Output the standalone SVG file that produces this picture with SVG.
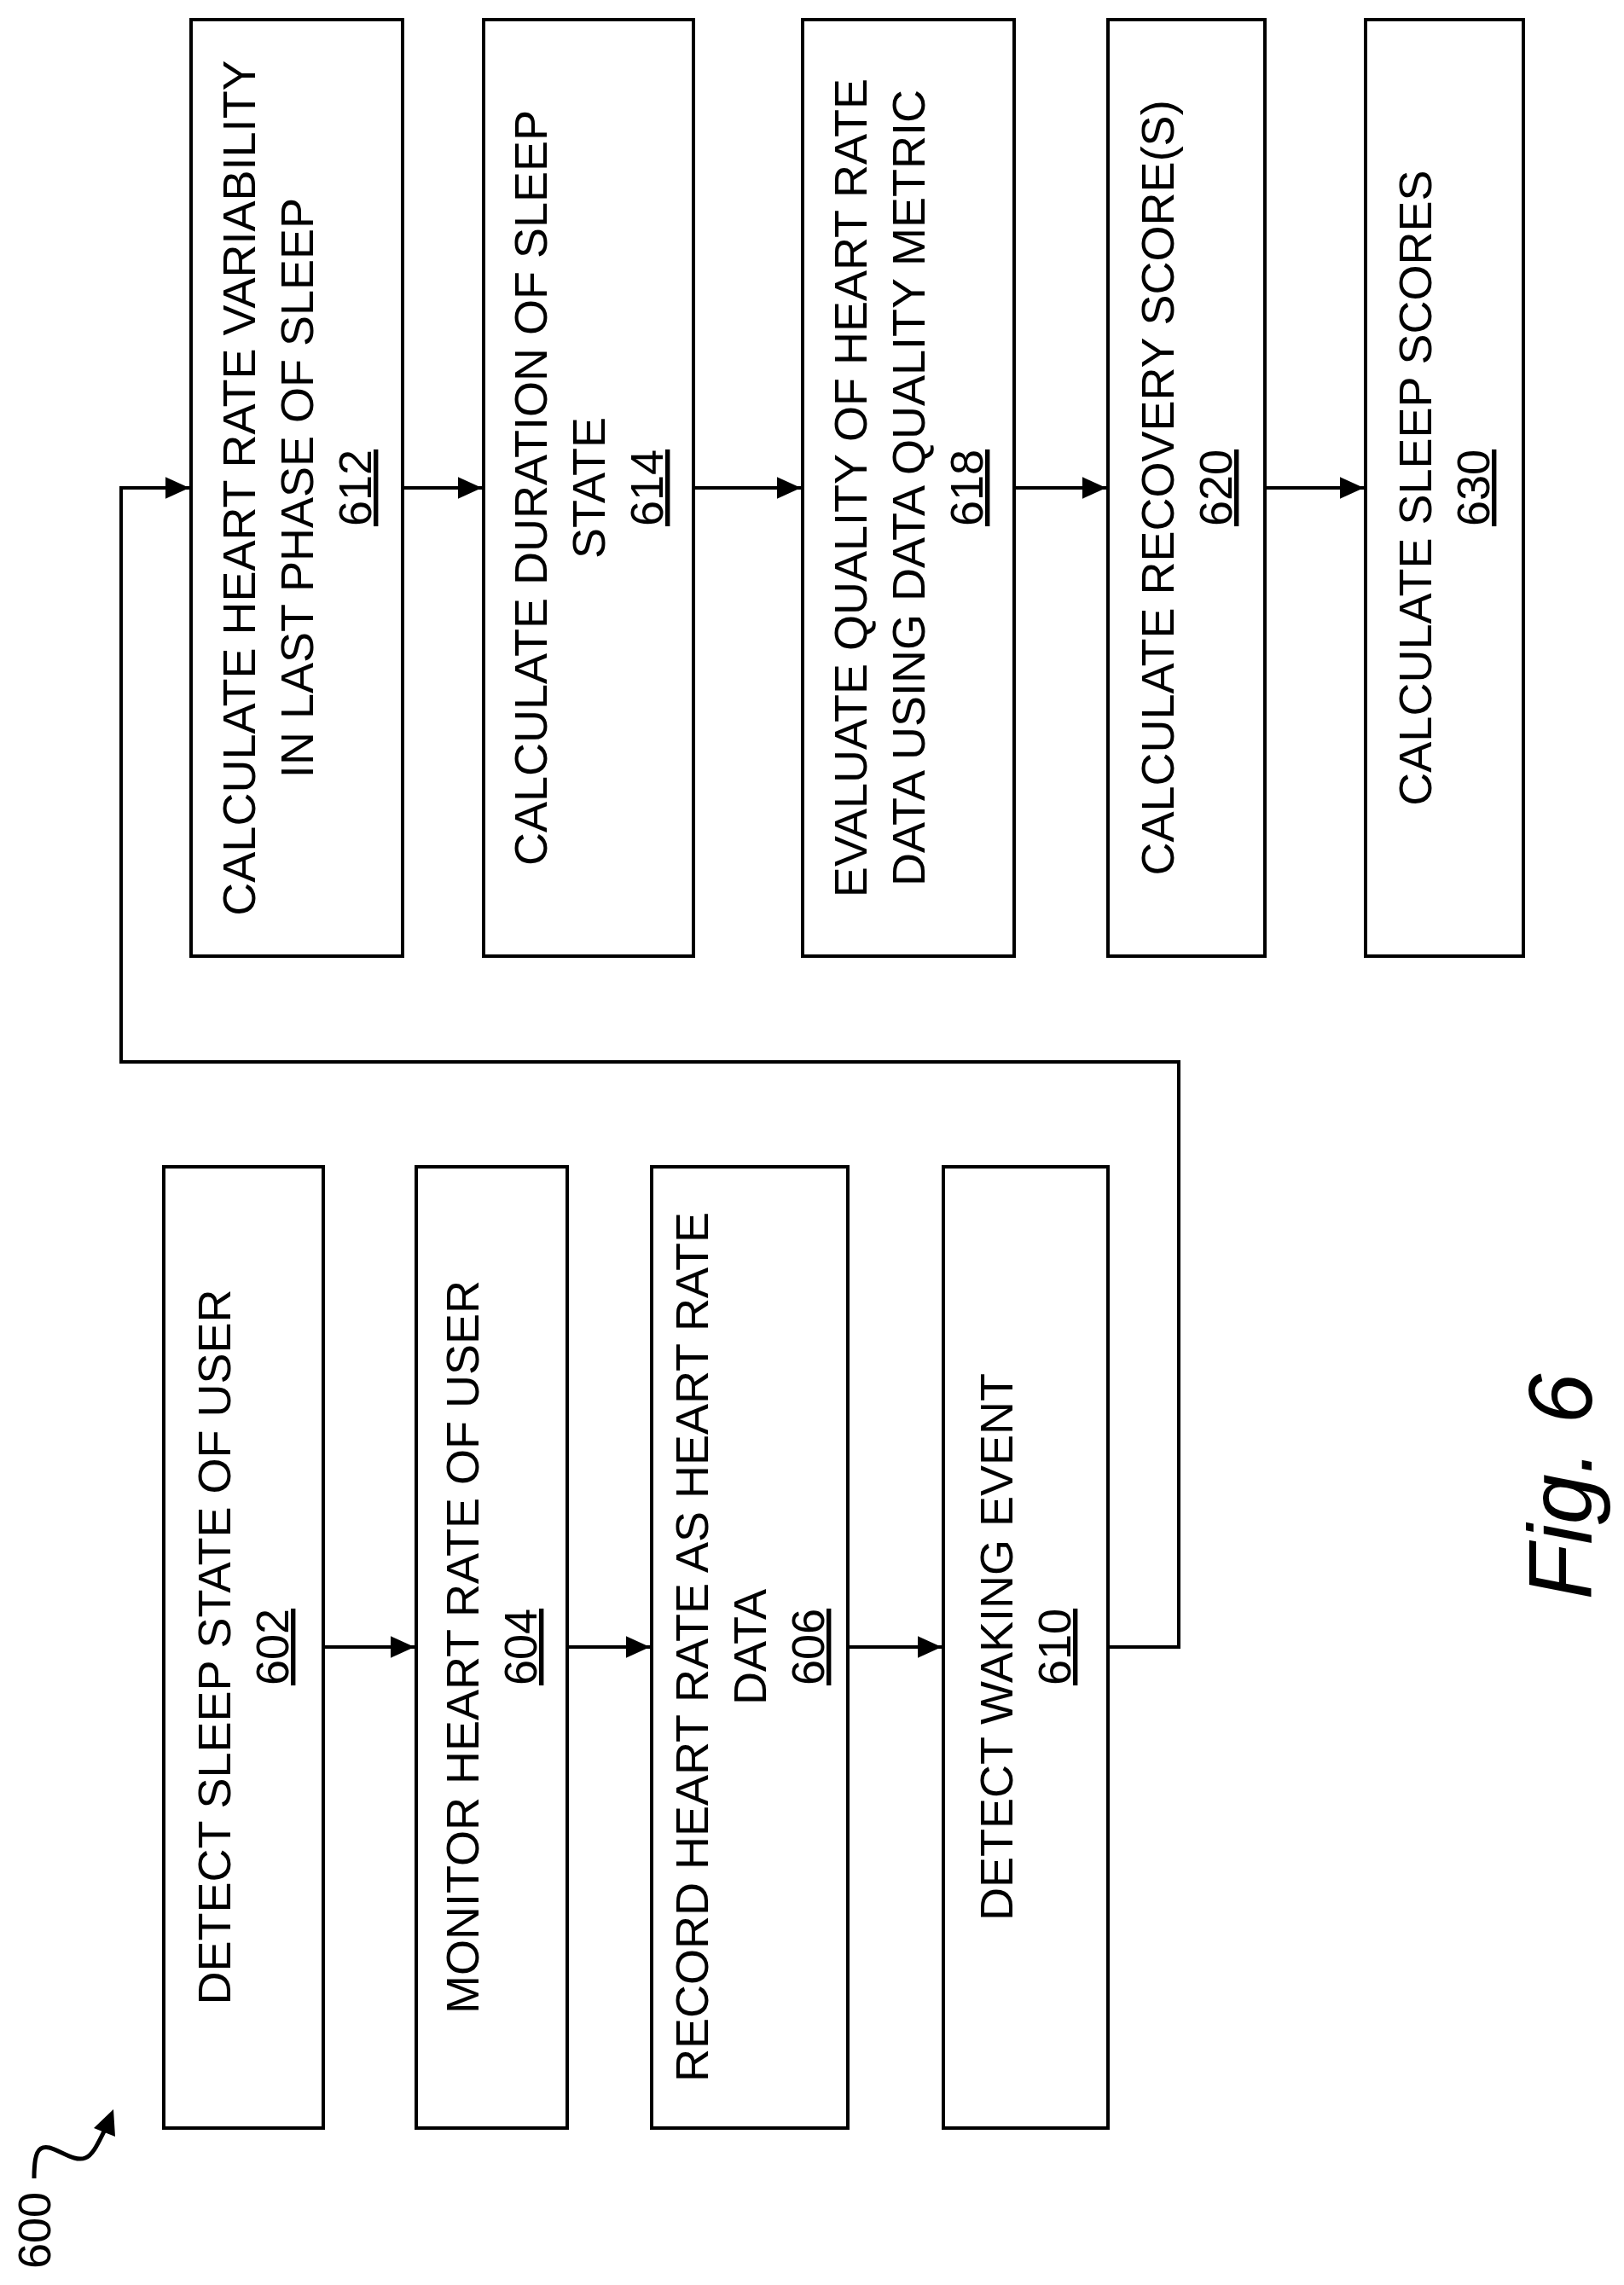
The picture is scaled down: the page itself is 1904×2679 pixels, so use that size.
<svg xmlns="http://www.w3.org/2000/svg" width="1904" height="2679" viewBox="0 0 1904 2679">
<style>
.b{fill:#fff;stroke:#000;stroke-width:4}
.t{font-family:"Liberation Sans",Arial,sans-serif;font-size:54px;text-anchor:middle;fill:#000}
.u{text-decoration:underline}
.c{fill:none;stroke:#000;stroke-width:4}
</style>
<defs><marker id="a" markerWidth="8" markerHeight="8" refX="7" refY="4" orient="auto" markerUnits="strokeWidth"><path d="M0,0.8 L7,4 L0,7.2z" fill="#000"/></marker></defs>
<rect width="1904" height="2679" fill="#fff"/>
<g id="connectors">
<path class="c" d="M472,572 H565" marker-end="url(#a)"/>
<path class="c" d="M813,572 H939" marker-end="url(#a)"/>
<path class="c" d="M1189,572 H1297" marker-end="url(#a)"/>
<path class="c" d="M1483,572 H1599" marker-end="url(#a)"/>
<path class="c" d="M379,1931 H486" marker-end="url(#a)"/>
<path class="c" d="M665,1931 H762" marker-end="url(#a)"/>
<path class="c" d="M994,1931 H1104" marker-end="url(#a)"/>
<path class="c" d="M1299,1931 H1382 V1245 H142 V572 H222" marker-end="url(#a)"/>
</g>
<g id="n612"><rect class="b" x="224" y="23" width="248" height="1098"/>
<text class="t" transform="translate(348,572) rotate(-90)"><tspan x="0" y="-49">CALCULATE HEART RATE VARIABILITY</tspan><tspan x="0" y="19">IN LAST PHASE OF SLEEP</tspan><tspan x="0" y="87" class="u">612</tspan></text></g>
<g id="n614"><rect class="b" x="567" y="23" width="246" height="1098"/>
<text class="t" transform="translate(690,572) rotate(-90)"><tspan x="0" y="-49">CALCULATE DURATION OF SLEEP</tspan><tspan x="0" y="19">STATE</tspan><tspan x="0" y="87" class="u">614</tspan></text></g>
<g id="n618"><rect class="b" x="941" y="23" width="248" height="1098"/>
<text class="t" transform="translate(1065,572) rotate(-90)"><tspan x="0" y="-49">EVALUATE QUALITY OF HEART RATE</tspan><tspan x="0" y="19">DATA USING DATA QUALITY METRIC</tspan><tspan x="0" y="87" class="u">618</tspan></text></g>
<g id="n620"><rect class="b" x="1299" y="23" width="184" height="1098"/>
<text class="t" transform="translate(1391,572) rotate(-90)"><tspan x="0" y="-15">CALCULATE RECOVERY SCORE(S)</tspan><tspan x="0" y="53" class="u">620</tspan></text></g>
<g id="n630"><rect class="b" x="1601" y="23" width="185" height="1098"/>
<text class="t" transform="translate(1693,572) rotate(-90)"><tspan x="0" y="-15">CALCULATE SLEEP SCORES</tspan><tspan x="0" y="53" class="u">630</tspan></text></g>
<g id="n602"><rect class="b" x="192" y="1368" width="187" height="1127"/>
<text class="t" transform="translate(285,1931) rotate(-90)"><tspan x="0" y="-15">DETECT SLEEP STATE OF USER</tspan><tspan x="0" y="53" class="u">602</tspan></text></g>
<g id="n604"><rect class="b" x="488" y="1368" width="177" height="1127"/>
<text class="t" transform="translate(576,1931) rotate(-90)"><tspan x="0" y="-15">MONITOR HEART RATE OF USER</tspan><tspan x="0" y="53" class="u">604</tspan></text></g>
<g id="n606"><rect class="b" x="764" y="1368" width="230" height="1127"/>
<text class="t" transform="translate(879,1931) rotate(-90)"><tspan x="0" y="-49">RECORD HEART RATE AS HEART RATE</tspan><tspan x="0" y="19">DATA</tspan><tspan x="0" y="87" class="u">606</tspan></text></g>
<g id="n610"><rect class="b" x="1106" y="1368" width="193" height="1127"/>
<text class="t" transform="translate(1202,1931) rotate(-90)"><tspan x="0" y="-15">DETECT WAKING EVENT</tspan><tspan x="0" y="53" class="u">610</tspan></text></g>
<g id="ref600">
<text class="t" transform="translate(59,2615) rotate(-90)">600</text>
<path d="M40,2554 C40,2525 44,2515 58,2518 C72,2522 88,2535 100,2530 C110,2526 116,2510 124,2495" fill="none" stroke="#000" stroke-width="5"/>
<path d="M110,2495 L133,2473 L135,2505 Z" fill="#000"/>
</g>
<text id="fig" transform="translate(1866,1743) rotate(-90)" font-family="'Liberation Sans',Arial,sans-serif" font-style="italic" font-size="106" text-anchor="middle">Fig. 6</text>
</svg>
